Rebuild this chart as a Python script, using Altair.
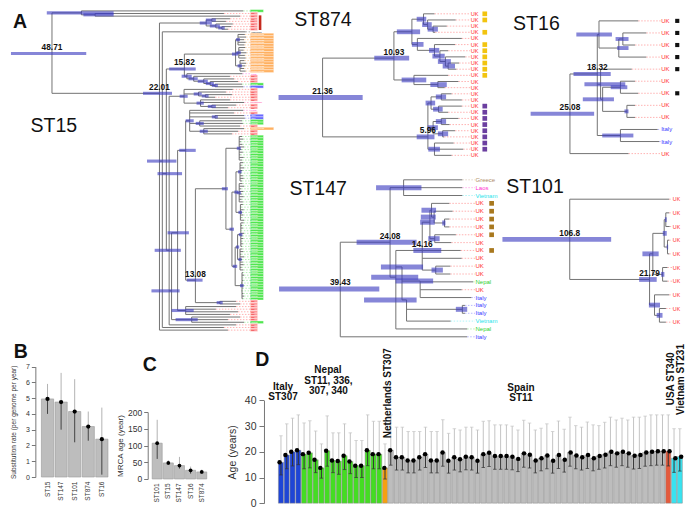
import altair as alt
import pandas as pd

FONT = "Liberation Sans"
SX = 680 / 696
SY = 501 / 517
CANVAS_W, CANVAS_H = 680, 501

# ======================= DATA =======================
# ---- Panel B: substitution rate ----
B_CATS = ["ST15", "ST147", "ST101", "ST874", "ST16"]
B_MEAN = [4.95, 4.75, 4.15, 3.2, 2.4]
B_LOW = [4.0, 3.0, 2.2, 2.3, 0.15]
B_HIGH = [5.9, 6.6, 6.2, 4.15, 4.4]

# ---- Panel C: MRCA age ----
C_CATS = ["ST101", "ST15", "ST147", "ST16", "ST874"]
C_MEAN = [107, 48, 40, 26, 21]
C_LOW = [60, 42, 31, 16, 16]
C_HIGH = [177, 56, 66, 37, 28]

# ---- Panel D: age of outbreaks ----
D_GROUP_NAMES = ["Italy", "Nepal", "Netherlands", "Spain", "USA", "Vietnam"]
D_GROUP_COUNTS = [4, 14, 1, 48, 1, 2]
D_MEAN = [15.9, 18.75, 20.0, 20.6,
          19.1, 19.6, 16.9, 13.75, 20.4, 16.6, 16.4, 18.5, 16.25, 14.6, 14.6, 20.6, 19.1, 19.1,
          13.75,
          20.6, 17.9, 17.9, 16.6, 16.6, 17.9, 19.1, 16.6, 16.6, 19.75, 16.5, 17.9, 17.1, 18.1, 17.9, 16.5,
          19.1, 19.6, 18.4, 18.4, 18.4, 18.1, 17.25, 19.4, 18.9, 16.6, 17.5, 18.6, 16.5, 18.75, 16.9, 19.75,
          18.6, 17.9, 18.75, 17.5, 18.4, 18.9, 20.0, 19.4, 20.0, 19.4, 18.5, 18.75, 19.75, 20.0, 20.25, 20.25,
          20.25,
          17.5, 18.1]
D_HIGH = [26.25, 30.9, 33.1, 34.4,
          31.25, 32.1, 28.1, 23.1, 34.0, 27.4, 27.4, 30.9, 27.4, 24.4, 24.4, 34.4, 31.9, 31.9,
          23.1,
          34.4, 29.6, 29.6, 27.9, 27.9, 27.9, 29.6, 27.9, 27.9, 32.5, 27.2, 29.0, 28.5, 29.6, 29.6, 28.5,
          31.9, 32.1, 30.5, 30.5, 30.5, 30.0, 28.5, 32.3, 31.2, 28.5, 29.2, 30.9, 27.9, 32.0, 28.8, 33.5,
          30.2, 29.6, 31.6, 30.5, 30.2, 31.5, 33.5, 32.4, 33.1, 32.4, 33.5, 33.5, 33.9, 34.4, 34.4, 34.4,
          34.4,
          29.0, 29.0]
D_LOW = [11.0, 13.4, 14.5, 15.0,
         13.4, 13.75, 11.9, 9.75, 14.4, 11.9, 11.25, 13.1, 11.5, 10.0, 10.0, 14.6, 13.4, 13.4,
         9.4,
         14.8, 12.9, 12.9, 11.8, 11.8, 12.9, 13.9, 11.8, 11.8, 14.4, 11.7, 12.9, 12.2, 13.0, 12.9, 11.7,
         13.9, 14.3, 13.2, 13.2, 13.2, 13.0, 12.3, 14.0, 13.7, 11.8, 12.6, 13.4, 11.7, 13.5, 12.1, 14.4,
         13.4, 12.9, 13.5, 12.6, 13.2, 13.7, 14.6, 14.0, 14.6, 14.0, 13.3, 13.5, 14.4, 14.6, 14.8, 14.8,
         14.5,
         12.0, 12.5]

# ---- Trees: internal nodes (id, parent, age in years before present, row or None, HPD low, HPD high)
# ---- tips (parent, age, country, square marker) listed top to bottom
ST15_NODES = [
    ("R", None, 48.71, 16.3, 40.2, 58.9),
    ("T", "R", 41.4, None, 33.4, 50.0),
    ("T2", "T", 38.0, None, 33.4, 40.9),
    ("N22", "R", 22.01, 31.5, 18.9, 26.1),
    ("UKc", "N22", 10.4, None, 9.0, 12.0),
    ("UKc1", "UKc", 9.0, None, 8.0, 10.5),
    ("UKc2", "UKc", 8.0, None, 7.0, 9.5),
    ("UKc3", "UKc2", 6.5, None, 5.8, 7.4),
    ("B1", "N22", 21.3, 57.4, 17.8, 25.1),
    ("B2", "B1", 20.3, 62.2, 16.4, 22.5),
    ("N15", "B2", 15.82, 22.2, 13.0, 19.6),
    ("OR", "N15", 3.1, 16.5, 2.5, 4.0),
    ("OR1", "OR", 2.5, None, 2.0, 3.0),
    ("OR2", "OR", 2.3, None, 1.8, 2.9),
    ("OR3", "OR", 2.0, None, 1.5, 2.6),
    ("LA", "N15", 15.2, None, 14.0, 16.5),
    ("LA2", "LA", 13.5, None, 12.5, 14.8),
    ("LA3", "LA2", 11.0, None, 10.0, 12.5),
    ("LA4", "LA3", 9.4, None, 8.5, 10.5),
    ("LA5", "LA4", 8.2, None, 7.5, 9.0),
    ("B3", "B2", 19.6, 91.5, 16.7, 23.2),
    ("SG", "B3", 15.9, None, 15.0, 17.0),
    ("SG2", "SG", 12.3, None, 11.5, 13.5),
    ("SG3", "SG2", 10.6, None, 9.8, 11.5),
    ("SG4", "SG", 11.8, None, 11.0, 12.8),
    ("SG5", "SG4", 9.0, None, 8.0, 10.0),
    ("B4", "B3", 19.0, 107.0, 17.0, 24.0),
    ("B5", "B4", 17.5, 84.8, 14.7, 20.0),
    ("LC", "B5", 15.5, 53.3, 13.0, 17.1),
    ("LC1", "LC", 14.5, None, 13.5, 15.5),
    ("LC2", "LC1", 8.2, None, 7.5, 9.0),
    ("LC3", "LC1", 12.0, None, 11.0, 13.0),
    ("LC4", "LC1", 11.0, None, 10.0, 12.0),
    ("N13", "LC", 13.08, 102.9, 11.3, 15.2),
    ("G", "N13", 5.5, None, 5.0, 6.5),
    ("G1", "G", 2.2, None, 1.8, 2.8),
    ("G2", "G", 4.0, None, 3.5, 4.6),
    ("G3", "G2", 3.0, None, 2.5, 3.4),
    ("G3a", "G3", 2.0, None, 1.6, 2.5),
    ("G3b", "G3", 2.2, None, 1.8, 2.7),
    ("G3c", "G3", 1.9, None, 1.5, 2.4),
    ("G4", "G2", 3.2, None, 2.7, 3.8),
    ("G5", "G4", 2.6, None, 2.2, 3.0),
    ("G5a", "G5", 1.8, None, 1.4, 2.3),
    ("G5b", "G5", 2.0, None, 1.6, 2.4),
    ("G6", "G4", 1.5, None, 1.1, 2.0),
    ("UP", "N13", 7.0, None, 6.3, 7.8),
    ("BC1", "B5", 15.5, None, 13.5, 19.0),
    ("BC2", "B4", 14.0, None, 12.5, 18.0),
]
ST15_TIP_GROUPS = [  # parent, country, tip ages (one tip each)
    ("T", "Nepal", [1.2]),
    ("T2", "UK", [6.0, 2.0]),
    ("UKc1", "UK", [4.5, 5.5]),
    ("UKc2", "UK", [3.8]),
    ("UKc3", "UK", [4.2, 5.0]),
    ("B1", "Indonesia", [0.6]),
    ("OR1", "Netherlands", [0.8, 0.5, 1.0, 0.6, 0.9]),
    ("OR2", "Netherlands", [0.7, 1.1, 0.4, 0.8, 0.6]),
    ("OR3", "Netherlands", [0.9, 0.5, 0.7, 1.0, 0.6]),
    ("LA", "Laos", [1.4]),
    ("LA2", "UK", [4.5]),
    ("LA3", "UK", [3.5]),
    ("LA4", "UK", [2.5]),
    ("LA5", "Nepal", [1.5]),
    ("LA5", "Italy", [1.2]),
    ("SG", "UK", [3.8]),
    ("SG2", "UK", [5.5]),
    ("SG3", "UK", [4.0, 8.2]),
    ("SG4", "UK", [4.5]),
    ("SG4", "Singapore", [1.0]),
    ("SG5", "UK", [3.0, 5.0]),
    ("LC1", "Laos", [1.2]),
    ("LC1", "UK", [3.5]),
    ("LC2", "Italy", [1.0, 0.8]),
    ("LC3", "Nepal", [1.5, 1.3]),
    ("LC3", "UK", [2.0]),
    ("LC4", "Netherlands", [1.0]),
    ("LC4", "UK", [2.5, 4.0]),
    ("G1", "Nepal", [1.5, 1.2, 1.8, 1.4, 1.0, 1.6, 1.3, 1.9, 1.1, 1.5]),
    ("G3a", "Nepal", [1.2, 1.6, 1.0, 1.4, 1.8, 1.3, 1.1, 1.5]),
    ("G3b", "Nepal", [1.4, 1.0, 1.7, 1.2, 1.5, 1.1, 1.6, 1.3]),
    ("G3c", "Nepal", [1.3, 1.7, 1.1, 1.4, 1.2, 1.6, 1.0]),
    ("G5a", "Nepal", [1.1, 1.5, 1.3, 1.8, 1.0, 1.4, 1.2, 1.6, 1.3, 1.5]),
    ("G5b", "Nepal", [1.4, 1.2, 1.7, 1.0, 1.5, 1.3, 1.1, 1.6, 1.2]),
    ("G6", "Nepal", [1.3, 1.0, 1.5, 1.2, 1.7, 1.1, 1.4, 1.6, 1.2, 1.0, 1.3]),
    ("UP", "UK", [3.0, 2.0]),
    ("BC1", "UK", [3.0, 8.0, 2.5, 4.5]),
    ("BC2", "UK", [2.0, 5.0]),
    ("BC2", "Nepal", [1.0]),
    ("B3", "UK", [3.0]),
    ("B1", "UK", [6.0]),
    ("N22", "UK", [5.0]),
]
ST15_MARKER_ROWS = [2, 7]
ST15_LABELS = [("R", "48.71"), ("N22", "22.01"), ("N15", "15.82"), ("N13", "13.08")]

ST874_NODES = [
    ("r", None, 21.36, None, 15.5, 27.8),
    ("A", "r", 10.93, 7.2, 8.7, 13.8),
    ("A1", "A", 8.3, None, 7.1, 10.5),
    ("A1a", "A1", 6.6, None, 6.2, 7.6),
    ("A1a1", "A1a", 6.0, None, 5.4, 6.8),
    ("A1a2", "A1a1", 5.2, None, 4.5, 6.0),
    ("A1b", "A1", 7.5, None, 6.6, 8.3),
    ("A1b1", "A1b", 5.0, None, 4.3, 5.8),
    ("A1b2", "A1b1", 4.2, None, 3.5, 5.3),
    ("A1b3", "A1b2", 3.4, None, 2.6, 4.5),
    ("A1b4", "A1b3", 3.0, None, 2.0, 3.8),
    ("A2", "A", 8.0, None, 6.2, 9.8),
    ("A2a", "A2", 4.5, None, 3.2, 5.6),
    ("B", "r", 5.96, 20.0, 5.0, 7.6),
    ("B1", "B", 5.5, None, 4.9, 6.3),
    ("B1a", "B1", 4.0, None, 3.3, 4.8),
    ("B1b", "B1", 4.4, None, 3.8, 5.2),
    ("B2", "B", 5.2, None, 4.5, 6.0),
    ("B2a", "B2", 4.0, None, 3.3, 4.8),
    ("B2b", "B2", 3.8, None, 3.0, 4.5),
    ("B3", "B", 5.0, None, 4.2, 5.9),
]
ST874_TIPS = [
    ("A1a", 5.0, "UK", "y"), ("A1a1", 1.9, "UK", "y"), ("A1a2", 3.2, "UK", ""), ("A1a2", 4.9, "UK", "y"),
    ("A1b", 1.0, "UK", ""), ("A1b1", 2.0, "UK", "y"), ("A1b2", 3.0, "UK", "y"), ("A1b3", 0.5, "UK", "y"),
    ("A1b4", 1.4, "UK", "y"), ("A1b4", 1.8, "UK", "y"), ("A2", 3.0, "UK", "y"), ("A2a", 1.5, "UK", ""),
    ("A2a", 3.5, "UK", ""), ("B1a", 2.5, "UK", ""), ("B1a", 1.0, "UK", ""), ("B1b", 1.0, "UK", "p"),
    ("B1b", 3.0, "UK", "p"), ("B2a", 1.5, "UK", "p"), ("B2a", 2.8, "UK", "p"), ("B2b", 2.0, "UK", "p"),
    ("B2b", 3.6, "UK", "p"), ("B3", 2.2, "UK", "p"), ("B3", 0.8, "UK", "p"), ("B3", 2.5, "UK", ""),
]
ST874_LABELS = [("r", "21.36"), ("A", "10.93"), ("B", "5.96")]

ST16_NODES = [
    ("r", None, 25.08, 7.7, 19.1, 34.8),
    ("C1", "r", 18.32, 4.4, 15.0, 24.2),
    ("C1a", "C1", 17.9, None, 14.7, 23.5),
    ("C1a1", "C1a", 13.0, None, 10.6, 13.4),
    ("C1a2", "C1a1", 12.0, None, 10.6, 13.8),
    ("C1b", "C1", 17.5, None, 11.4, 21.5),
    ("C1b1", "C1b", 17.0, None, 14.2, 21.9),
    ("C1b1a", "C1b1", 12.6, None, 10.9, 15.0),
    ("C1b1b", "C1b1", 11.0, None, 10.6, 11.6),
    ("C1c", "C1", 12.6, None, 9.4, 17.1),
]
ST16_TIPS = [
    ("C1a", 8.2, "UK", "k"), ("C1a2", 6.2, "UK", "k"), ("C1a2", 9.0, "UK", "k"), ("C1a1", 6.2, "UK", "k"),
    ("C1b", 9.8, "UK", "k"), ("C1b1a", 9.0, "UK", ""), ("C1b1a", 8.2, "UK", "k"), ("C1b1b", 9.0, "UK", ""),
    ("C1b1b", 9.0, "UK", ""), ("C1c", 3.4, "Italy", ""), ("C1c", 3.0, "Italy", ""), ("r", 10.6, "UK", ""),
]
ST16_LABELS = [("r", "25.08"), ("C1", "18.32")]

ST147_NODES = [
    ("R", None, 39.43, 13.9, 27.4, 58.3),
    ("N24", "R", 24.08, 7.95, 15.9, 34.4),
    ("G1", "N24", 19.9, None, 14.4, 28.4),
    ("N22", "N24", 22.3, 12.4, 15.4, 29.9),
    ("N14", "N22", 14.16, 9.0, 8.3, 16.9),
    ("N14a", "N14", 11.8, 5.4, 10.3, 14.8),
    ("N14a1", "N14a", 11.3, None, 9.9, 14.4),
    ("N14a2", "N14a1", 10.5, None, 10.0, 14.6),
    ("N14a3", "N14a2", 7.3, None, 7.0, 8.0),
    ("N14a4", "N14a", 10.3, None, 8.8, 12.3),
    ("N14b", "N14", 10.0, None, 7.8, 11.3),
    ("N20", "N22", 20.4, 11.1, 13.9, 26.9),
    ("N17", "N20", 14.8, 12.9, 10.8, 22.4),
    ("N18", "N20", 19.0, 15.3, 15.9, 32.1),
    ("N1", "N18", 1.8, None, 0.3, 3.8),
]
ST147_TIPS = [
    ("G1", 1.8, "Greece", ""), ("G1", 1.8, "Laos", ""), ("G1", 1.8, "Vietnam", ""),
    ("N14a1", 5.8, "UK", "b"), ("N14a2", 4.8, "UK", "b"), ("N14a3", 5.8, "UK", "b"), ("N14a3", 5.8, "UK", "b"),
    ("N14a4", 3.8, "UK", "b"), ("N14a4", 5.2, "UK", ""), ("N14", 2.3, "UK", "b"), ("N14", 2.0, "UK", ""),
    ("N14b", 5.5, "UK", ""), ("N14b", 5.5, "UK", ""), ("N17", -1.5, "Nepal", ""), ("N17", 2.0, "UK", ""),
    ("N17", -1.0, "Italy", ""), ("N1", 1.0, "Italy", ""), ("N1", 1.0, "Italy", ""), ("N18", 5.4, "Vietnam", ""),
    ("N22", 0.3, "Nepal", ""), ("R", 0.3, "Italy", ""),
]
ST147_LABELS = [("R", "39.43"), ("N24", "24.08"), ("N14", "14.16")]

ST101_NODES = [
    ("r", None, 106.8, None, 62.7, 178.5),
    ("N21", "r", 21.79, None, 14.2, 32.9),
    ("N1", "N21", 18.3, None, 12.1, 29.4),
    ("N1a", "N1", 6.2, None, 3.5, 7.7),
    ("N1b", "N1a", 4.5, None, 3.5, 5.5),
    ("N1c", "N1a", 2.7, None, 2.0, 3.5),
    ("N2", "N1", 7.9, None, 6.0, 9.5),
    ("N3", "N21", 16.5, None, 10.7, 22.5),
    ("N3a", "N3", 11.3, None, 8.0, 14.2),
]
ST101_TIPS = [
    ("r", 0.9, "UK", ""), ("N1b", 0.9, "UK", ""), ("N1b", 0.4, "UK", ""), ("N1c", 0.9, "UK", ""),
    ("N1c", 0.9, "UK", ""), ("N2", 2.7, "UK", ""), ("N2", 2.7, "UK", ""), ("N3", 0.9, "UK", ""),
    ("N3a", 4.4, "UK", ""), ("N3a", 4.4, "UK", ""),
]
ST101_LABELS = [("r", "106.8"), ("N21", "21.79")]

# ======================= STYLE / LAYOUT =======================
COUNTRY_COLORS = {"UK": "#ff2b2b", "Nepal": "#2fd12f", "Italy": "#3838ff", "Laos": "#ff2fd0",
                  "Vietnam": "#1fe3ea", "Greece": "#b08c68", "Singapore": "#ff2f8a",
                  "Indonesia": "#222222", "Netherlands": "#ff8c1a"}
BOX_COLORS = {"Nepal": "#50e650", "Italy": "#6a6aff", "Netherlands": "#ffb060", "UK": "#ff9a9a"}
BOX_TEXT = {"Nepal": "#ffffff", "Italy": "#ffffff", "Netherlands": "#ffffff", "UK": "#e00000"}
BOX_RIGHT = {"Nepal": 261.5, "Italy": 261.5, "Netherlands": 272.0, "UK": 255.5}
SQUARE_COLORS = {"y": "#f2c40f", "p": "#6b3fa0", "k": "#111111", "b": "#a8781e"}
D_COLORS = {"Italy": "#1f45d6", "Nepal": "#44dd22", "Netherlands": "#f5a012", "Spain": "#bdbdbd",
            "USA": "#e45a3c", "Vietnam": "#38e3f0"}
LINE_COLOR = "#737373"
HPD_COLOR = "#3c3cc0"

# panel rectangles in reference-pixel units (scaled by SX/SY to the canvas)
TREES = {
    "ST15": dict(X0=0, X1=268, Y0=0, Y1=341, ppy=4.12, xzero=245.7, y0=3.0, rowh=2.7,
                 label_x=248.5, square_x=None, title=(23, 128), tipfs=2.4, barw=3.1, sqsize=0, marker_x=258),
    "ST874": dict(X0=268, X1=500, Y0=0, Y1=170, ppy=7.0, xzero=471.5, y0=6.0, rowh=6.35,
                  label_x=473, square_x=488, title=(293, 18.3), tipfs=5.6, barw=4.8, sqsize=22),
    "ST16": dict(X0=500, X1=696, Y0=0, Y1=170, ppy=4.14, xzero=679, y0=13.3, rowh=12.45,
                 label_x=668, square_x=685, title=(517, 22.7), tipfs=6.0, barw=3.9, sqsize=17),
    "ST147": dict(X0=268, X1=500, Y0=170, Y1=341, ppy=3.32, xzero=471, y0=177.3, rowh=8.1,
                  label_x=478, square_x=495, title=(288, 192.7), tipfs=6.0, barw=5.0, sqsize=22),
    "ST101": dict(X0=500, X1=696, Y0=170, Y1=341, ppy=0.961, xzero=677.6, y0=197.3, rowh=14.1,
                  label_x=680, square_x=None, title=(510, 191), tipfs=5.3, barw=4.8, sqsize=0),
}


def PX(X):
    return X * SX


def PY(Y):
    return Y * SY


def text_at(t, X, Y, size, bold=False, align="left", angle=0):
    kw = dict(align=align, baseline="alphabetic", fontSize=size, font=FONT, color="#111111")
    if bold:
        kw["fontWeight"] = "bold"
    if angle:
        kw["angle"] = angle
    return alt.Chart(pd.DataFrame({"t": [t]})).mark_text(**kw).encode(
        x=alt.value(PX(X)), y=alt.value(PY(Y)), text="t:N")


def tree_layers(name, nodes, tips, node_labels, cfg, boxes=False, marker_rows=None):
    info = {}
    for nid, par, age, row, lo, hi in nodes:
        info[nid] = dict(par=par, age=age, row=row, lo=lo, hi=hi, kids=[])
    for nid in [n[0] for n in nodes]:
        p = info[nid]["par"]
        if p is not None:
            info[p]["kids"].append(nid)
    tip_ids = []
    for i, (par, age, country, mark) in enumerate(tips):
        tid = "tip%d" % i
        info[tid] = dict(par=par, age=age, row=float(i), lo=None, hi=None, kids=[],
                         country=country, mark=mark)
        info[par]["kids"].append(tid)
        tip_ids.append(tid)

    def row_of(n):
        d = info[n]
        if d["row"] is None:
            rs = [row_of(k) for k in d["kids"]]
            d["row"] = (min(rs) + max(rs)) / 2.0
        return d["row"]

    for n in list(info):
        row_of(n)

    ppy, xz = cfg["ppy"], cfg["xzero"]

    def age_at(X):
        return (xz - X) / ppy

    lab_age = age_at(cfg["label_x"])
    hrec, vrec, brec = [], [], []
    for n, d in info.items():
        if d["par"] is not None:
            hrec.append(dict(x=info[d["par"]]["age"], x2=d["age"], y=d["row"]))
        if d["kids"]:
            rs = [info[k]["row"] for k in d["kids"]] + [d["row"]]
            vrec.append(dict(x=d["age"], y=min(rs), y2=max(rs)))
        if d["lo"] is not None:
            brec.append(dict(x=d["hi"], x2=d["lo"], y=d["row"]))
    trec = []
    for tid in tip_ids:
        d = info[tid]
        c = d["country"]
        boxed = boxes and c in BOX_COLORS
        trec.append(dict(age=d["age"], lab=lab_age, row=d["row"], country=c,
                         color=COUNTRY_COLORS[c], tcolor=(BOX_TEXT[c] if boxed else COUNTRY_COLORS[c]),
                         mark=d["mark"], boxed=boxed))
    tdf = pd.DataFrame(trec)

    xs = alt.Scale(domain=[age_at(cfg["X0"]), age_at(cfg["X1"])], range=[PX(cfg["X0"]), PX(cfg["X1"])],
                   nice=False, zero=False)
    ys = alt.Scale(domain=[(cfg["Y1"] - cfg["y0"]) / cfg["rowh"], (cfg["Y0"] - cfg["y0"]) / cfg["rowh"]],
                   range=[PY(cfg["Y1"]), PY(cfg["Y0"])], nice=False, zero=False)

    def ex(f):
        return alt.X(f + ":Q", scale=xs, axis=None)

    def ey(f):
        return alt.Y(f + ":Q", scale=ys, axis=None)

    layers = []
    if boxes:
        bx = []
        for r in trec:
            if r["boxed"]:
                bx.append(dict(bx=age_at(cfg["label_x"] - 0.5), bx2=age_at(BOX_RIGHT[r["country"]]),
                               by=r["row"] - 0.5, by2=r["row"] + 0.5, fill=BOX_COLORS[r["country"]]))
        layers.append(alt.Chart(pd.DataFrame(bx)).mark_rect(stroke="white", strokeWidth=0.35).encode(
            x=ex("bx"), x2=alt.X2("bx2"), y=ey("by"), y2=alt.Y2("by2"),
            fill=alt.Fill("fill:N", scale=None)))
    layers.append(alt.Chart(tdf).mark_rule(strokeDash=[1.5, 1.5], strokeWidth=0.8, opacity=0.45).encode(
        x=ex("age"), x2=alt.X2("lab"), y=ey("row"), color=alt.Color("color:N", scale=None)))
    layers.append(alt.Chart(pd.DataFrame(hrec)).mark_rule(color=LINE_COLOR, strokeWidth=1).encode(
        x=ex("x"), x2=alt.X2("x2"), y=ey("y")))
    layers.append(alt.Chart(pd.DataFrame(vrec)).mark_rule(color=LINE_COLOR, strokeWidth=1).encode(
        x=ex("x"), y=ey("y"), y2=alt.Y2("y2")))
    layers.append(alt.Chart(pd.DataFrame(brec)).mark_rule(color=HPD_COLOR, strokeWidth=cfg["barw"],
                                                          opacity=0.62).encode(
        x=ex("x"), x2=alt.X2("x2"), y=ey("y")))
    layers.append(alt.Chart(tdf).mark_text(align="left", baseline="middle", fontSize=cfg["tipfs"],
                                           font=FONT, dx=0.5).encode(
        x=ex("lab"), y=ey("row"), text="country:N", color=alt.Color("tcolor:N", scale=None)))
    if marker_rows is not None:
        mdf = pd.DataFrame([dict(x=age_at(cfg["marker_x"]), y=marker_rows[0] - 0.3, y2=marker_rows[1] + 0.3)])
        layers.append(alt.Chart(mdf).mark_rule(color="#c52a1e", strokeWidth=2.6).encode(
            x=ex("x"), y=ey("y"), y2=alt.Y2("y2")))
    if cfg["square_x"] is not None:
        sq = [dict(sx=age_at(cfg["square_x"]), row=r["row"], sc=SQUARE_COLORS[r["mark"]])
              for r in trec if r["mark"]]
        if sq:
            layers.append(alt.Chart(pd.DataFrame(sq)).mark_square(size=cfg["sqsize"], opacity=1).encode(
                x=ex("sx"), y=ey("row"), color=alt.Color("sc:N", scale=None)))
    nl = pd.DataFrame([dict(x=info[n]["age"], y=info[n]["row"], t=t) for n, t in node_labels])
    layers.append(alt.Chart(nl).mark_text(fontWeight="bold", fontSize=8.3, baseline="bottom", dy=-1.5,
                                          font=FONT, color="#111111").encode(
        x=ex("x"), y=ey("y"), text="t:N"))
    tx, ty = cfg["title"]
    layers.append(text_at(name, tx, ty, 19.5))
    return layers


ST15_TIPS = [(par, age, country, "") for par, country, ages in ST15_TIP_GROUPS for age in ages]

layers = []
layers += tree_layers("ST15", ST15_NODES, ST15_TIPS, ST15_LABELS, TREES["ST15"], boxes=True,
                      marker_rows=ST15_MARKER_ROWS)
layers += tree_layers("ST874", ST874_NODES, ST874_TIPS, ST874_LABELS, TREES["ST874"])
layers += tree_layers("ST16", ST16_NODES, ST16_TIPS, ST16_LABELS, TREES["ST16"])
layers += tree_layers("ST147", ST147_NODES, ST147_TIPS, ST147_LABELS, TREES["ST147"])
layers += tree_layers("ST101", ST101_NODES, ST101_TIPS, ST101_LABELS, TREES["ST101"])
layers.append(text_at("A", 5, 20.7, 19.5, bold=True))


# ======================= BOTTOM PANELS =======================
def small_bar(cats, means, lows, highs, xr, yr, axis_x, ytitle, yvals, ydom,
              lab_fs, title_fs, title_pad, dot_size, xlab_pad):
    df = pd.DataFrame(dict(cat=cats, mean=means, lo=lows, hi=highs))
    xsc = alt.Scale(paddingInner=0.1, paddingOuter=0.05, range=[PX(xr[0]), PX(xr[1])])
    xax = alt.Axis(title=None, labelAngle=-90, domain=False, ticks=False, labelPadding=xlab_pad,
                   labelFontSize=6.5, labelColor="#333333", labelFont=FONT, orient="bottom",
                   offset=PY(yr[0]) - CANVAS_H)
    ysc = alt.Scale(domain=ydom, nice=False, zero=True, range=[PY(yr[0]), PY(yr[1])])
    yax = alt.Axis(title=ytitle, values=yvals, grid=False, orient="left", offset=-PX(axis_x), tickSize=4,
                   labelFontSize=lab_fs, titleFontSize=title_fs, titleFontWeight="normal", labelPadding=2,
                   titlePadding=title_pad, domainColor="#777777", tickColor="#777777", labelColor="#333333",
                   titleColor="#333333", labelFont=FONT, titleFont=FONT)

    def xe(withaxis):
        return alt.X("cat:N", sort=cats, scale=xsc, axis=(xax if withaxis else None))

    def ye(f, withaxis=False):
        return alt.Y(f + ":Q", scale=ysc, axis=(yax if withaxis else None))

    base = alt.Chart(df)
    bars = base.mark_bar(fill="#bdbdbd", stroke="#999999", strokeWidth=0.6).encode(
        x=xe(True), y=ye("mean", True))
    up = base.mark_rule(color="#b3b3b3", strokeWidth=1).encode(x=xe(False), y=ye("mean"), y2=alt.Y2("hi"))
    dn = base.mark_rule(color="#444444", strokeWidth=1).encode(x=xe(False), y=ye("lo"), y2=alt.Y2("mean"))
    dot = base.mark_circle(size=dot_size, color="black", opacity=1).encode(x=xe(False), y=ye("mean"))
    return [bars, up, dn, dot]


layers += small_bar(B_CATS, B_MEAN, B_LOW, B_HIGH, (33.5, 103), (484, 370), 28,
                    "Substitution rate (per genome per year)", list(range(8)), [0, 7], 7, 6.5, 9, 18, 4)
layers += small_bar(C_CATS, C_MEAN, C_LOW, C_HIGH, (147, 204), (486, 417), 143,
                    "MRCA age (year)", [0, 50, 100, 150, 200], [0, 200], 8.5, 8, 3, 14, 4)
layers.append(text_at("B", 6, 360.7, 19.5, bold=True))
layers.append(text_at("C", 138, 375, 19.5, bold=True))

# ---- Panel D ----
d_group = [g for g, n in zip(D_GROUP_NAMES, D_GROUP_COUNTS) for _ in range(n)]
ddf = pd.DataFrame(dict(idx=list(range(len(D_MEAN))), grp=d_group, mean=D_MEAN, lo=D_LOW, hi=D_HIGH))
ddf["fill"] = ddf["grp"].map(D_COLORS)
D_X = (275, 692)
D_Y = (511, 405)
dxs = alt.Scale(paddingInner=0.12, paddingOuter=0.3, range=[PX(D_X[0]), PX(D_X[1])])
dx = alt.X("idx:O", scale=dxs, axis=None)
dys = alt.Scale(domain=[0, 40], nice=False, zero=True, range=[PY(D_Y[0]), PY(D_Y[1])])
dyax = alt.Axis(title="Age (years)", values=[0, 10, 20, 30, 40], grid=False, orient="left", offset=-PX(262),
                tickSize=5, labelFontSize=10.5, titleFontSize=10.5, titleFontWeight="normal", labelPadding=3,
                titlePadding=7, domainColor="#777777", tickColor="#777777", labelColor="#333333",
                titleColor="#333333", labelFont=FONT, titleFont=FONT)


def dy_(f, withaxis=False):
    return alt.Y(f + ":Q", scale=dys, axis=(dyax if withaxis else None))


dbase = alt.Chart(ddf)
layers.append(dbase.mark_bar(stroke="#8a8a8a", strokeWidth=0.5).encode(
    x=dx, y=dy_("mean", True), fill=alt.Fill("fill:N", scale=None)))
layers.append(dbase.mark_rule(color="#c4c4c4", strokeWidth=1).encode(x=dx, y=dy_("mean"), y2=alt.Y2("hi")))
layers.append(dbase.mark_rule(color="#333333", strokeWidth=1).encode(x=dx, y=dy_("lo"), y2=alt.Y2("mean")))
layers.append(dbase.mark_tick(color="#c4c4c4", thickness=1, size=3.5).encode(x=dx, y=dy_("hi")))
layers.append(dbase.mark_tick(color="#333333", thickness=1, size=3.5).encode(x=dx, y=dy_("lo")))
layers.append(dbase.mark_circle(size=20, color="black", opacity=1).encode(x=dx, y=dy_("mean")))

D_NOTES_H = [("Italy", 281.5, 394.5), ("ST307", 281.5, 405), ("Nepal", 327.5, 377),
             ("ST11, 336,", 328, 388), ("307, 340", 328, 398.5), ("Spain", 525, 395), ("ST11", 525, 405.5)]
D_NOTES_V = [("Netherlands ST307", 391.5, 444), ("USA ST340", 681.5, 410), ("Vietnam ST231", 691.5, 420)]
for t, x, y in D_NOTES_H:
    layers.append(text_at(t, x, y, 10, bold=True, align="center"))
for t, x, y in D_NOTES_V:
    layers.append(text_at(t, x, y, 10, bold=True, align="left", angle=270))
layers.append(text_at("D", 253, 369, 19.5, bold=True))

chart = alt.layer(*layers).resolve_scale(x="independent", y="independent").properties(
    width=CANVAS_W, height=CANVAS_H, padding=0, background="white",
    autosize=alt.AutoSizeParams(type="none")
).configure_view(stroke=None).configure_axis(labelFont=FONT, titleFont=FONT).configure_text(font=FONT)

chart.save("out.html", embed_options={"renderer": "svg", "actions": False})
